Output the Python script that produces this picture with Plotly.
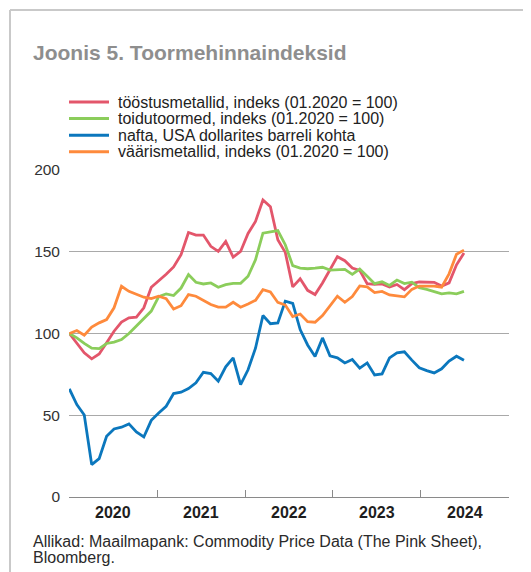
import plotly.graph_objects as go

# ---------------- data ----------------
# monthly observations, Jan 2020 ... Jun 2024 (54 months)
months = [f"{2020 + k // 12}-{k % 12 + 1:02d}" for k in range(54)]

tööstusmetallid = [100, 94.3, 88.2, 84.5, 87.5, 94.3, 101.4, 107, 109.6, 110,
                   115.7, 128.3, 132, 136.2, 140.7, 148.2, 161.8, 160.2, 160.2, 153.3,
                   150.2, 156.3, 146.7, 150.2, 161.2, 168.5, 181.7, 177.6, 157.3, 149.6,
                   128.5, 133.5, 126.4, 123.8, 130.9, 139, 147, 144.5, 140, 138.6,
                   130.5, 130, 130.3, 128.5, 130, 126.8, 130.5, 131.5, 131.5, 131.3,
                   129, 131, 142, 149.2]

toidutoormed = [100, 97.3, 93.9, 91, 90.8, 93.9, 94.7, 96.3, 100, 104.5,
                109.6, 113.7, 122.6, 124.2, 123.2, 127.8, 136, 131.3, 130.3, 130.9,
                128.3, 129.9, 130.7, 130.7, 135, 145.1, 161.4, 162.4, 163, 154.3,
                141.5, 140, 139.6, 140, 140.5, 138.8, 139, 139.2, 136.2, 139.4,
                135, 130.5, 131.7, 129.4, 132.7, 130.5, 131.4, 128, 127, 125.6,
                124.3, 124.8, 124.3, 125.8]

nafta = [66.1, 56.5, 50.2, 19.8, 23.5, 37.1, 41.6, 42.7, 44.7, 39.8,
         36.7, 46.9, 51.4, 55.5, 63.3, 64.1, 66.3, 69.8, 76.3, 75.5,
         70.8, 79.6, 85.1, 68.8, 77.8, 91, 111, 106, 106.5, 119.8,
         118.4, 102.4, 93, 86, 97.3, 86.3, 85.1, 82, 84.1, 78.8,
         82, 74.7, 75.3, 85.1, 88.2, 88.8, 83.7, 79, 77.3, 75.9,
         78.4, 83.1, 86.1, 83.7]

väärismetallid = [100, 101.8, 99, 103.9, 106.5, 108.5, 115.7, 128.9, 125.8, 123.8,
                  122.2, 121.3, 122.8, 121.3, 115, 117, 123.8, 122.8, 120.3, 117.7,
                  116.1, 116.1, 119.1, 116.1, 118.1, 120.3, 126.8, 125.4, 119, 117.4,
                  110.4, 111.9, 107.2, 106.9, 111, 117, 122.8, 119.1, 122.6, 129.1,
                  128.5, 125, 125.7, 123.6, 123, 122.4, 127, 129, 129, 129,
                  128.3, 136.5, 148.5, 151]

series_names = ["tööstusmetallid, indeks (01.2020 = 100)",
                "toidutoormed, indeks (01.2020 = 100)",
                "nafta, USA dollarites barreli kohta",
                "väärismetallid, indeks (01.2020 = 100)"]
series_values = [tööstusmetallid, toidutoormed, nafta, väärismetallid]

years = ["2020", "2021", "2022", "2023", "2024"]
y_ticks = [0, 50, 100, 150, 200]
y_ticklabels = ["0", "50", "100", "150", "200"]

title_text = "Joonis 5. Toormehinnaindeksid"
source_lines = ["Allikad: Maailmapank: Commodity Price Data (The Pink Sheet),",
                "Bloomberg."]

# ---------------- styling / layout ----------------
colors = ["#e3566b", "#8bcd5b", "#0b77bd", "#fe8a3c"]
FONT = "Liberation Sans, Arial, Helvetica, sans-serif"

OFF = 8  # page body margin
W, H = 531 - OFF, 572 - OFF
L, R, T, B = 69 - OFF, 22, 170 - OFF, 75
PW, PH = W - L - R, H - T - B


def pxx(x):
    """window pixel x -> paper x"""
    return (x - OFF - L) / PW


def pxy(y):
    """window pixel y (from top) -> paper y"""
    return (H - B - (y - OFF)) / PH


n_slots = 60  # axis spans Jan 2020 .. Dec 2024
x_idx = list(range(len(months)))
x_max = n_slots - 1
boundaries = [k * x_max / len(years) for k in range(len(years) + 1)]
mids = [(boundaries[k] + boundaries[k + 1]) / 2 for k in range(len(years))]

fig = go.Figure()
for name, vals, col in zip(series_names, series_values, colors):
    fig.add_trace(go.Scatter(x=x_idx, y=vals, mode="lines", name=name,
                             line=dict(color=col, width=2.8),
                             showlegend=False, hoverinfo="skip"))

shapes = []
annotations = []

# frame
shapes.append(dict(type="line", xref="paper", yref="paper",
                   x0=pxx(10), x1=pxx(531), y0=pxy(10), y1=pxy(10),
                   line=dict(color="#c9c9c9", width=2)))
shapes.append(dict(type="line", xref="paper", yref="paper",
                   x0=pxx(10), x1=pxx(10), y0=pxy(10), y1=pxy(572),
                   line=dict(color="#c9c9c9", width=2)))

# title
annotations.append(dict(text=title_text, xref="paper", yref="paper",
                        x=pxx(31), y=pxy(53), xanchor="left", yanchor="middle",
                        showarrow=False,
                        font=dict(family=FONT, size=21, color="#8e8e8e", weight="bold")))

# legend (manual)
for k, (name, col) in enumerate(zip(series_names, colors)):
    yy = 102 + 16.6 * k
    shapes.append(dict(type="line", xref="paper", yref="paper",
                       x0=pxx(69), x1=pxx(109), y0=pxy(yy), y1=pxy(yy),
                       line=dict(color=col, width=3)))
    annotations.append(dict(text=name, xref="paper", yref="paper",
                            x=pxx(116), y=pxy(yy), xanchor="left", yanchor="middle",
                            showarrow=False,
                            font=dict(family=FONT, size=16, color="#222222")))

# year labels
for yr, m in zip(years, mids):
    annotations.append(dict(text=yr, xref="x", yref="paper", x=m, y=pxy(512.5),
                            xanchor="center", yanchor="middle", showarrow=False,
                            font=dict(family=FONT, size=16, color="#1e1e1e", weight="bold")))

# source
for k, line in enumerate(source_lines):
    annotations.append(dict(text=line, xref="paper", yref="paper",
                            x=pxx(31), y=pxy(541.5 + 16 * k), xanchor="left", yanchor="middle",
                            showarrow=False,
                            font=dict(family=FONT, size=16, color="#2a2a2a")))

fig.update_layout(
    width=W, height=H,
    margin=dict(l=L, r=R, t=T, b=B, pad=0),
    paper_bgcolor="white", plot_bgcolor="white",
    font=dict(family=FONT),
    shapes=shapes, annotations=annotations,
    showlegend=False,
    xaxis=dict(range=[-0.05, x_max + 0.05], tickmode="array", tickvals=boundaries,
               ticktext=[""] * len(boundaries), ticks="inside", ticklen=7,
               tickcolor="#8a8a8a", tickwidth=1, showline=True, linecolor="#8a8a8a",
               linewidth=1, showgrid=False, zeroline=False, fixedrange=True),
    yaxis=dict(range=[0, 200], tickmode="array", tickvals=y_ticks, ticktext=y_ticklabels,
               showgrid=True, gridcolor="#a9a9a9", gridwidth=1.2, zeroline=False,
               showline=False, ticks="", ticklabelstandoff=8,
               tickfont=dict(family=FONT, size=15.5, color="#333333"), fixedrange=True),
)

fig.write_html("out.html", config={"displayModeBar": False})
